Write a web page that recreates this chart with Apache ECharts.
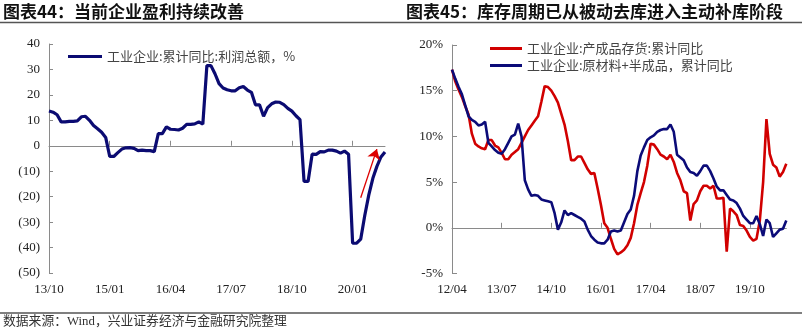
<!DOCTYPE html>
<html><head><meta charset="utf-8">
<script src="https://cdn.jsdelivr.net/npm/echarts@6/dist/echarts.min.js"></script>
<style>html,body{margin:0;padding:0;background:#fff}#c{width:802px;height:333px}</style>
</head><body><div id="c"></div><script>
// ---- data ----
function monthLabels(y, m, n){
  var out=[];
  for(var i=0;i<n;i++){
    var k=m-1+i, yy=y+Math.floor(k/12), mm=k%12+1;
    out.push(String(yy%100).padStart(2,'0')+'/'+String(mm).padStart(2,'0'));
  }
  return out;
}
var profitMonths = monthLabels(2013,10,84);   // 13/10 .. 20/09
var profitName = '工业企业:累计同比:利润总额，%';
var profitValues = [
  13.7,13.2,12.2,
  9.4,9.4,9.6,9.6,9.8,11.4,11.6,10.0,8.0,6.7,5.3,3.3,
  -4.2,-4.2,-2.7,-1.3,-0.8,-0.7,-1.0,-1.9,-1.7,-1.9,-1.9,-2.3,
  4.8,4.8,7.4,6.5,6.4,6.2,6.9,8.4,8.4,8.6,9.4,8.5,
  31.5,31.5,28.3,24.4,22.7,22.0,21.6,21.6,22.8,23.3,21.9,21.0,
  16.1,16.1,11.6,15.0,16.5,17.2,17.1,16.2,14.7,13.6,11.8,10.3,
  -14.0,-14.0,-3.3,-3.4,-2.3,-2.4,-1.7,-1.7,-2.1,-2.9,-2.1,-3.3,
  -38.3,-38.3,-36.7,-27.4,-19.3,-12.8,-8.1,-4.4,-2.4
];
var profitTicks = [-50,-40,-30,-20,-10,0,10,20,30,40];
var arrowFrom = ['20/03', -20.4];
var arrowTo = ['20/07', -1.3];

var invMonths = monthLabels(2012,4,102);      // 12/04 .. 20/09
var finishedName = '工业企业:产成品存货:累计同比';
var finishedValues = [
  17.3,16.0,15.1,14.3,13.3,12.4,10.3,9.2,8.9,8.7,
  8.6,9.6,9.6,9.0,8.8,8.2,7.5,7.5,8.0,8.3,
  8.6,9.3,10.0,10.7,11.2,11.7,12.2,13.8,15.5,15.4,
  15.0,14.4,13.7,12.5,11.3,9.5,7.4,7.4,7.8,7.8,
  7.1,6.4,5.9,6.0,4.3,2.5,0.5,0.0,-1.2,-2.3,
  -2.9,-2.7,-2.4,-1.9,-1.1,0.5,2.5,3.8,5.0,6.8,
  9.2,9.1,8.6,8.0,7.8,7.5,8.0,7.2,6.0,5.2,
  4.0,3.8,0.8,2.6,3.0,4.0,4.6,4.6,4.3,4.6,
  3.2,3.2,3.3,-2.6,2.1,1.8,1.4,0.3,0.2,-0.3,
  -1.0,-1.4,-1.2,0.8,5.0,11.9,8.1,6.9,6.6,5.6,
  6.1,7.0
];
var rawName = '工业企业:原材料+半成品，累计同比';
var rawValues = [
  17.3,16.3,15.4,14.6,13.4,12.2,11.8,11.6,11.2,11.3,
  11.6,9.3,8.9,8.5,8.2,8.1,8.6,9.3,10.0,10.2,
  11.4,10.0,5.2,4.2,3.5,3.6,3.5,3.1,3.0,2.9,
  2.8,1.6,-0.2,0.6,1.9,1.4,1.6,1.4,1.2,1.0,
  0.7,-0.2,-0.9,-1.3,-1.6,-1.7,-1.7,-1.3,-0.4,-0.3,
  -0.4,-0.3,0.6,1.5,2.0,3.5,6.2,7.9,8.8,9.6,
  9.9,10.1,10.5,10.7,10.8,10.8,11.3,10.5,8.0,7.7,
  7.4,6.6,6.1,6.0,5.7,6.2,6.8,6.8,6.2,5.4,
  4.5,4.1,4.1,3.6,3.1,3.0,2.7,2.1,1.3,0.9,
  0.5,0.5,1.3,0.4,-0.9,0.9,0.5,-1.0,-0.6,-0.2,
  -0.1,0.8
];
var invTicks = [-5,0,5,10,15,20];

// ---- chart ----
var serif = '"Liberation Serif","Noto Sans CJK SC",serif';
var cjk = '"Noto Sans CJK SC","Liberation Serif",serif';
var axisGray = '#8a8a8a';
var labelColor = '#222';

function labelAxis(grid, cats){
  return {type:'category', gridIndex:grid, data:cats, boundaryGap:false, position:'bottom',
    axisLine:{show:false, onZero:false}, axisTick:{show:false},
    axisLabel:{interval:14, color:labelColor, fontFamily:serif, fontSize:13, margin:10},
    splitLine:{show:false}};
}
function zeroAxis(grid, cats){
  return {type:'category', gridIndex:grid, data:cats, boundaryGap:false, position:'bottom',
    axisLine:{show:true, onZero:true, lineStyle:{color:axisGray, width:1}},
    axisTick:{show:true, inside:true, length:5, interval:14, lineStyle:{color:axisGray}},
    axisLabel:{show:false}, splitLine:{show:false}};
}

var chart = echarts.init(document.getElementById('c'), null, {renderer:'canvas'});
chart.setOption({
  animation:false,
  backgroundColor:'#fff',
  grid:[
    {left:49, top:44, width:336, height:229},
    {left:452, top:45, width:334.3, height:228.5}
  ],
  xAxis:[labelAxis(0, profitMonths), zeroAxis(0, profitMonths), labelAxis(1, invMonths), zeroAxis(1, invMonths)],
  yAxis:[
    {type:'value', gridIndex:0, min:profitTicks[0], max:profitTicks[profitTicks.length-1], interval:10,
      axisLine:{show:true, lineStyle:{color:axisGray}},
      axisTick:{show:true, inside:true, length:4, lineStyle:{color:axisGray}},
      axisLabel:{color:labelColor, fontFamily:serif, fontSize:13, margin:9,
        formatter:function(v){return v<0?'('+(-v)+')':String(v);}},
      splitLine:{show:false}},
    {type:'value', gridIndex:1, min:invTicks[0], max:invTicks[invTicks.length-1], interval:5,
      axisLine:{show:true, lineStyle:{color:axisGray}},
      axisTick:{show:true, inside:true, length:5, lineStyle:{color:axisGray}},
      axisLabel:{color:labelColor, fontFamily:serif, fontSize:13, margin:9,
        formatter:function(v){return v+'%';}},
      splitLine:{show:false}}
  ],
  legend:[
    {data:[profitName], left:63, top:45, icon:'rect', itemWidth:34, itemHeight:3, itemGap:5,
      textStyle:{color:'#444', fontSize:13, fontFamily:cjk}, selectedMode:false},
    {data:[finishedName, rawName], orient:'vertical', left:485, top:37, icon:'rect', itemWidth:32, itemHeight:3, itemGap:4,
      textStyle:{color:'#444', fontSize:13, fontFamily:cjk}, selectedMode:false}
  ],
  series:[
    {name:profitName, type:'line', xAxisIndex:0, yAxisIndex:0, data:profitValues,
      showSymbol:false, lineStyle:{color:'#0b0b72', width:3.2}, itemStyle:{color:'#0b0b72'},
      emphasis:{disabled:true},
      markLine:{silent:true, symbol:['none','arrow'], symbolSize:10, label:{show:false},
        lineStyle:{color:'#dd0000', width:1.3, type:'solid'},
        data:[[{coord:arrowFrom},{coord:arrowTo}]]}},
    {name:finishedName, type:'line', xAxisIndex:2, yAxisIndex:1, data:finishedValues,
      showSymbol:false, lineStyle:{color:'#d10000', width:2.6}, itemStyle:{color:'#d10000'},
      emphasis:{disabled:true}},
    {name:rawName, type:'line', xAxisIndex:2, yAxisIndex:1, data:rawValues,
      showSymbol:false, lineStyle:{color:'#0b0b78', width:2.6}, itemStyle:{color:'#0b0b78'},
      emphasis:{disabled:true}}
  ],
  graphic:[
    {type:'text', left:3, top:3, style:{text:'图表44：当前企业盈利持续改善', fontSize:17, fontWeight:'bold', fontFamily:cjk, fill:'#111'}},
    {type:'text', left:406, top:3, style:{text:'图表45：库存周期已从被动去库进入主动补库阶段', fontSize:17, fontWeight:'bold', fontFamily:cjk, fill:'#111'}},
    {type:'line', shape:{x1:0, y1:22.5, x2:802, y2:22.5}, style:{stroke:'#555', lineWidth:1.5}},
    {type:'line', shape:{x1:0, y1:313, x2:802, y2:313}, style:{stroke:'#555', lineWidth:1.5}},
    {type:'text', left:3, top:315, style:{text:'数据来源：Wind，兴业证券经济与金融研究院整理', fontSize:12.8, fontFamily:serif, fill:'#333'}}
  ]
});
</script></body></html>
